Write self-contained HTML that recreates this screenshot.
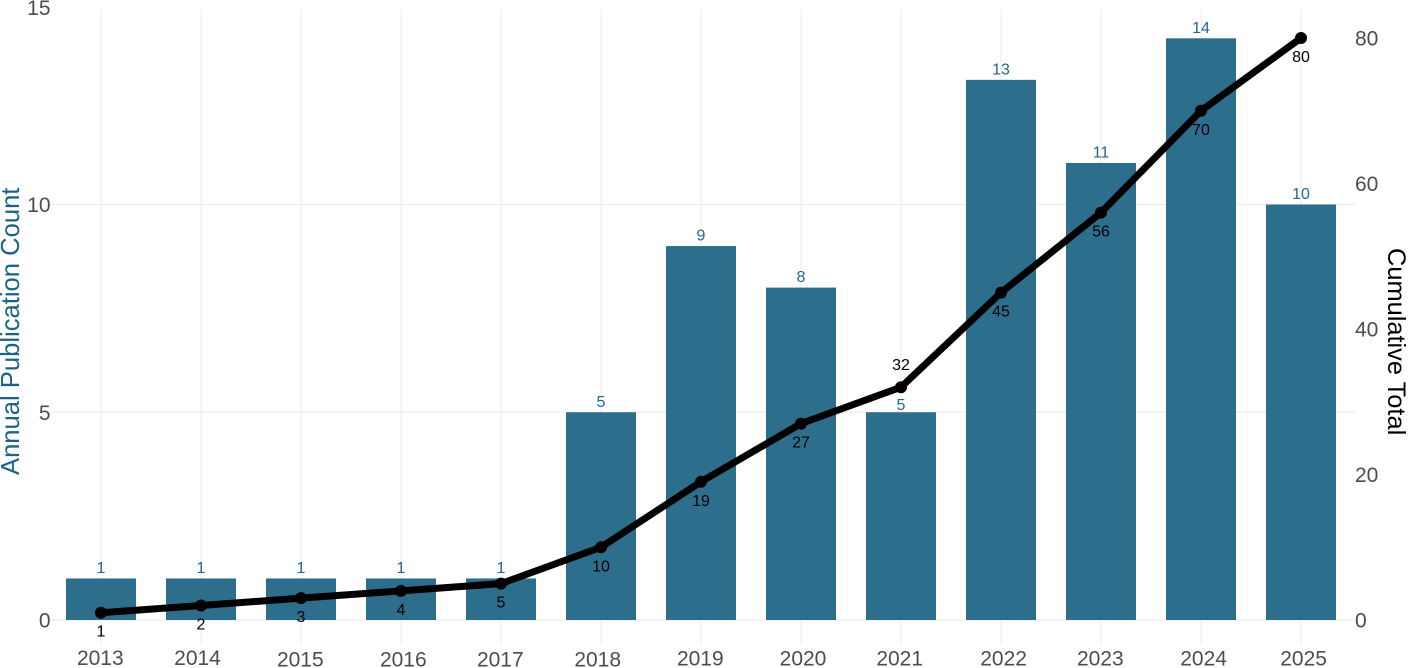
<!DOCTYPE html>
<html lang="en">
<head>
<meta charset="utf-8">
<title>Annual and cumulative publications</title>
<style>
html,body{margin:0;padding:0;background:#fff}
svg{display:block;font-family:"Liberation Sans",Arial,sans-serif}
</style>
</head>
<body>
<svg id="chart" width="1408" height="668" viewBox="0 0 1408 668" xmlns="http://www.w3.org/2000/svg">
  <g id="grid"></g>
  <g id="bars"></g>
  <g id="barLabels"></g>
  <g id="line"></g>
  <g id="lineLabels"></g>
  <g id="ticks"></g>
  <text transform="translate(19,475) rotate(-90)" font-size="25.6" fill="#1b6487">Annual Publication Count</text>
  <text transform="translate(1388,248) rotate(90)" font-size="25.4" fill="#000">Cumulative Total</text>
</svg>
<script>
const years = [2013,2014,2015,2016,2017,2018,2019,2020,2021,2022,2023,2024,2025];
const annual = [1,1,1,1,1,5,9,8,5,13,11,14,10];
const cumulative = [1,2,3,4,5,10,19,27,32,45,56,70,80];
const leftTicks = [0,5,10,15];
const rightTicks = [0,20,40,60,80];

const xNudge = [-0.7,-3.5,-0.7,2.3,-0.7,-3.3,-0.7,2,-1.3,2.6,-0.7,2.6,2.6];
const yNudge = [-0.5,-0.5,1.2,1.2,1.2,1.2,0.2,0.2,0.2,0.2,0.2,0.2,0.2];

const NS = 'http://www.w3.org/2000/svg';
const x = i => 101 + i * 100;
const yL = v => 620 - v * 41.55;
const yR = v => 620 - v * 7.275;

function make(parent, tag, attrs, content) {
  const el = document.createElementNS(NS, tag);
  for (const k in attrs) el.setAttribute(k, attrs[k]);
  if (content !== undefined) el.textContent = content;
  document.getElementById(parent).appendChild(el);
  return el;
}

leftTicks.forEach(t => {
  if (yL(t) < 0) return;
  const el = make('grid', 'line', {x1: 50, x2: 1355, y1: yL(t), y2: yL(t), stroke: '#ededed', 'stroke-width': t === 0 ? 1.6 : 1.2});
  
  
});
years.forEach((yr, i) => {
  const el = make('grid', 'line', {x1: x(i), x2: x(i), y1: 9, y2: 645, stroke: '#eeeeee', 'stroke-width': 1.2});
  
  
});

annual.forEach((v, i) => {
  const bar = make('bars', 'rect', {x: x(i) - 35, y: yL(v), width: 70, height: yL(0) - yL(v), fill: '#1c6283', 'fill-opacity': 0.92});
  
  
  const gap = years[i] === 2021 ? 2.5 : 5.5;
  const label = make('barLabels', 'text', {x: x(i), y: yL(v) - gap, 'text-anchor': 'middle', 'font-size': 16, fill: '#22688d'}, v);
  
  
});

const path = make('line', 'polyline', {
  points: cumulative.map((v, i) => x(i) + ',' + yR(v)).join(' '),
  fill: 'none', stroke: '#000', 'stroke-width': 7, 'stroke-linejoin': 'round'
});



cumulative.forEach((v, i) => {
  const dot = make('line', 'circle', {cx: x(i), cy: yR(v), r: 6, fill: '#000'});
  
  
  const above = years[i] === 2021;
  const label = make('lineLabels', 'text', {x: x(i), y: above ? yR(v) - 17 : yR(v) + 24, 'text-anchor': 'middle', 'font-size': 16, fill: '#000'}, v);
  
  
});

years.forEach((yr, i) => {
  const el = make('ticks', 'text', {x: x(i) + xNudge[i], y: 665.5 + yNudge[i], 'text-anchor': 'middle', 'font-size': 21, fill: '#4d4d4d'}, yr);
  
  
});
leftTicks.forEach(t => {
  const el = make('ticks', 'text', {x: 50.5, y: Math.max(yL(t) + 7.5, 15), 'text-anchor': 'end', 'font-size': 21, fill: '#4d4d4d'}, t);
  
  
});
rightTicks.forEach(t => {
  const el = make('ticks', 'text', {x: 1355, y: yR(t) + 7.5, 'font-size': 21, fill: '#4d4d4d'}, t);
  
  
});
</script>
</body>
</html>
